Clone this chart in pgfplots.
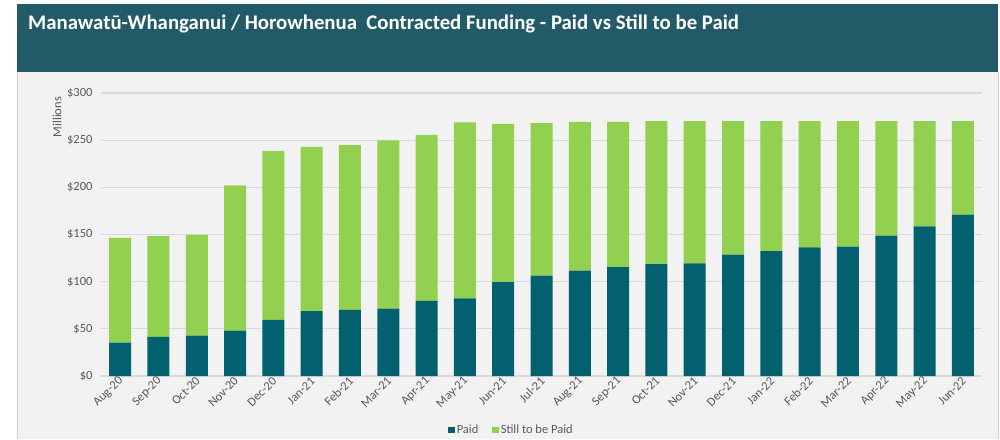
\documentclass[border=0pt]{standalone}
\usepackage{pgfplots}
\usepackage{pgfplotstable}
\pgfplotsset{compat=1.18}
\usepackage{fontspec}
\setmainfont{Carlito}
\definecolor{paid}{RGB}{2,96,111}
\definecolor{still}{RGB}{146,208,80}
\definecolor{header}{RGB}{34,90,104}
\definecolor{panel}{RGB}{242,242,242}
\definecolor{gridc}{RGB}{217,217,217}
\definecolor{txt}{RGB}{89,89,89}
\definecolor{bordc}{RGB}{205,205,205}

\pgfplotstableread{
x paid still
0 35.4 110.9
1 41.4 107.0
2 42.9 106.6
3 48.2 154.0
4 59.5 179.2
5 68.7 174.3
6 70.1 174.6
7 71.5 178.2
8 79.7 176.0
9 82.2 186.6
10 99.5 167.9
11 106.3 161.8
12 111.6 157.9
13 115.5 154.0
14 118.7 151.6
15 119.4 150.9
16 128.6 141.7
17 132.5 137.8
18 136.4 133.9
19 137.1 133.2
20 148.8 121.5
21 158.7 111.6
22 171.1 99.2
}\data

\begin{document}
\begin{tikzpicture}
\useasboundingbox (0pt,0pt) rectangle (1000pt,439pt);
\fill[white] (0pt,0pt) rectangle (1000pt,439pt);
\fill[panel] (17pt,0pt) rectangle (998pt,367pt);
\draw[bordc, line width=0.8pt] (17pt,0pt) -- (17pt,367pt);
\draw[bordc, line width=0.8pt] (998pt,0pt) -- (998pt,367pt);
\fill[header] (17pt,367pt) rectangle (998pt,435pt);
\node[anchor=base west, text=white, inner sep=0pt, font=\bfseries\fontsize{20.8}{24}\selectfont] at (28pt,409pt)
  {Manawatū-Whanganui / Horowhenua~ Contracted Funding - Paid vs Still to be Paid};
\begin{axis}[
  at={(101pt,63pt)}, anchor=south west,
  scale only axis, width=881pt, height=283pt,
  ybar stacked, bar width=22pt,
  xmin=-0.5, xmax=22.5, ymin=0, ymax=300,
  xtick={0,...,22},
  xticklabels={Aug-20,Sep-20,Oct-20,Nov-20,Dec-20,Jan-21,Feb-21,Mar-21,Apr-21,May-21,Jun-21,Jul-21,Aug-21,Sep-21,Oct-21,Nov-21,Dec-21,Jan-22,Feb-22,Mar-22,Apr-22,May-22,Jun-22},
  ytick={0,50,...,300},
  yticklabels={\$0,\$50,\$100,\$150,\$200,\$250,\$300},
  ymajorgrids, grid style={gridc, line width=1.3pt},
  axis line style={draw=none}, major tick length=0pt,
  tick label style={font=\fontsize{12.5}{14}\selectfont, text=txt},
  yticklabel style={xshift=-5pt},
  xticklabel style={rotate=45, anchor=east, yshift=-3pt, xshift=2pt},
  ylabel={Millions},
  every axis y label/.style={at={(axis description cs:-0.0499,0.915)}, rotate=90, anchor=center, font=\fontsize{12.5}{14}\selectfont, text=txt},
  legend style={at={(axis description cs:0.466,-0.19)}, anchor=center, draw=none, fill=none,
    font=\fontsize{12.5}{14}\selectfont, text=txt, legend columns=2,
    /tikz/every even column/.append style={column sep=12pt}},
  legend image code/.code={\fill[#1] (0pt,-3.2pt) rectangle (6.4pt,3.2pt);},
]
\addplot[fill=paid, draw=none] table[x=x, y=paid] {\data};
\addplot[fill=still, draw=none] table[x=x, y=still] {\data};
\legend{Paid, Still to be Paid}
\end{axis}
\end{tikzpicture}
\end{document}
